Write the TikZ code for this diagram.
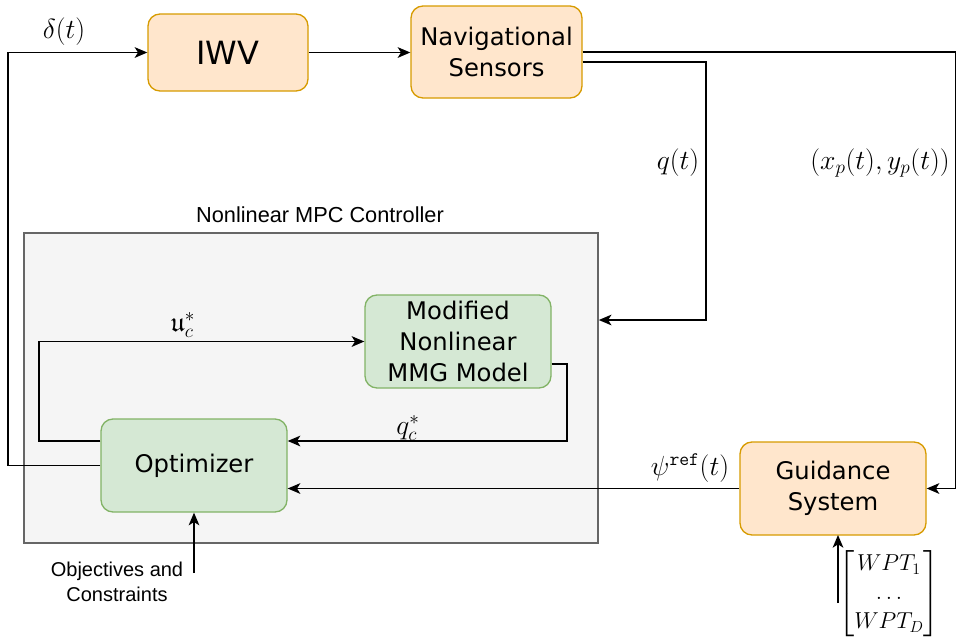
\documentclass[tikz,border=0pt]{standalone}
\usepackage{amsmath,amssymb}
\usepackage{fontspec}
\newfontfamily\boxfont{DejaVu Sans}
\newfontfamily\lblfont{Liberation Sans}
\usetikzlibrary{arrows.meta}
\definecolor{orfill}{HTML}{FFE6CC}
\definecolor{ordraw}{HTML}{D79B00}
\definecolor{grfill}{HTML}{D5E8D4}
\definecolor{grdraw}{HTML}{82B366}
\definecolor{ctfill}{HTML}{F5F5F5}
\definecolor{ctdraw}{HTML}{666666}
\tikzset{
  blk/.style={rounded corners=9pt, line width=1pt, align=center, inner sep=0pt,
    font=\boxfont\fontsize{18.2}{23}\selectfont},
  orblk/.style={blk, fill=orfill, draw=ordraw},
  grblk/.style={blk, fill=grfill, draw=grdraw},
  ctbox/.style={fill=ctfill, draw=ctdraw, line width=1.2pt, inner sep=0pt},
  arr/.style={line width=1.25pt, -{Stealth[length=9.5pt,width=8pt,inset=2.5pt]}},
  mlbl/.style={inner sep=0pt, font=\fontsize{20.5}{24}\selectfont},
  tlbl/.style={inner sep=0pt, align=center, font=\lblfont\fontsize{16.3}{19}\selectfont}
}
\begin{document}
\begin{tikzpicture}[x=0.75pt,y=-0.75pt]
\useasboundingbox (0,0) rectangle (957,637);
% container
\node[ctbox, minimum width=430.5pt, minimum height=232.5pt] (mpc) at (311,388) {};
\node[tlbl] (mpclbl) at (320,215) {Nonlinear MPC Controller};
% blocks
\node[orblk, minimum width=120pt, minimum height=57.75pt, font=\boxfont\fontsize{24}{28}\selectfont] (iwv) at (228,52.5) {IWV};
\node[orblk, minimum width=128.25pt, minimum height=69pt] (nav) at (496.5,52) {Navigational\\Sensors};
\node[grblk, minimum width=139.5pt, minimum height=69.75pt] (mmg) at (458,341.5) {Modified\\Nonlinear\\MMG Model};
\node[grblk, minimum width=139.5pt, minimum height=69.75pt] (opt) at (194,465.5) {Optimizer};
\node[orblk, minimum width=139.5pt, minimum height=69.75pt] (guid) at (833,488.5) {Guidance\\System};
% coordinates
\coordinate (dl) at (8,52.5);
\coordinate (xr) at (955.5,52);
\coordinate (qr) at (706,62);
\coordinate (qb) at (706,320);
\coordinate (ul) at (39,441);
\coordinate (qcr) at (567,364);
\coordinate (qcb) at (567,441);
\coordinate (objs) at (194,573);
\coordinate (wps) at (838,603);
\coordinate (wpe) at (838,535);
% connectors
\draw[arr] (opt.west) -| (dl) -- (iwv.west);
\draw[arr] (iwv.east) -- (iwv.east -| nav.west);
\draw[arr] (nav.east) -- (xr) |- (guid.east);
\draw[arr] (nav.east |- qr) -- (qr) -- (qb) -- (qb -| mpc.east);
\draw[arr] (opt.west |- ul) -- (ul) |- (mmg.west);
\draw[arr] (mmg.east |- qcr) -- (qcr) -- (qcb) -- (qcb -| opt.east);
\draw[arr] (guid.west) -- (guid.west -| opt.east);
\draw[arr] (objs) -- (opt.south);
\draw[arr] (wps) -- (wpe);
% labels
\node[mlbl] (ldelta) at (64,32) {$\delta(t)$};
\node[mlbl] (lq) at (678,163) {$q(t)$};
\node[mlbl] (lxy) at (880,163) {$(x_p(t),y_p(t))$};
\node[mlbl] (lu) at (183,325) {$\mathfrak{u}_c^*$};
\node[mlbl] (lqc) at (408,428) {$q_c^*$};
\node[mlbl] (lpsi) at (690,468) {$\psi^{\texttt{ref}}(t)$};
\node[tlbl, font=\lblfont\fontsize{15}{18.5}\selectfont] (lobj) at (117,582) {Objectives and\\Constraints};
\node[mlbl, font=\fontsize{18}{21.6}\selectfont] (lwpt) at (889,594) {$\begin{bmatrix} WPT_1\\ \dots\\ WPT_D\end{bmatrix}$};
\end{tikzpicture}
\end{document}
